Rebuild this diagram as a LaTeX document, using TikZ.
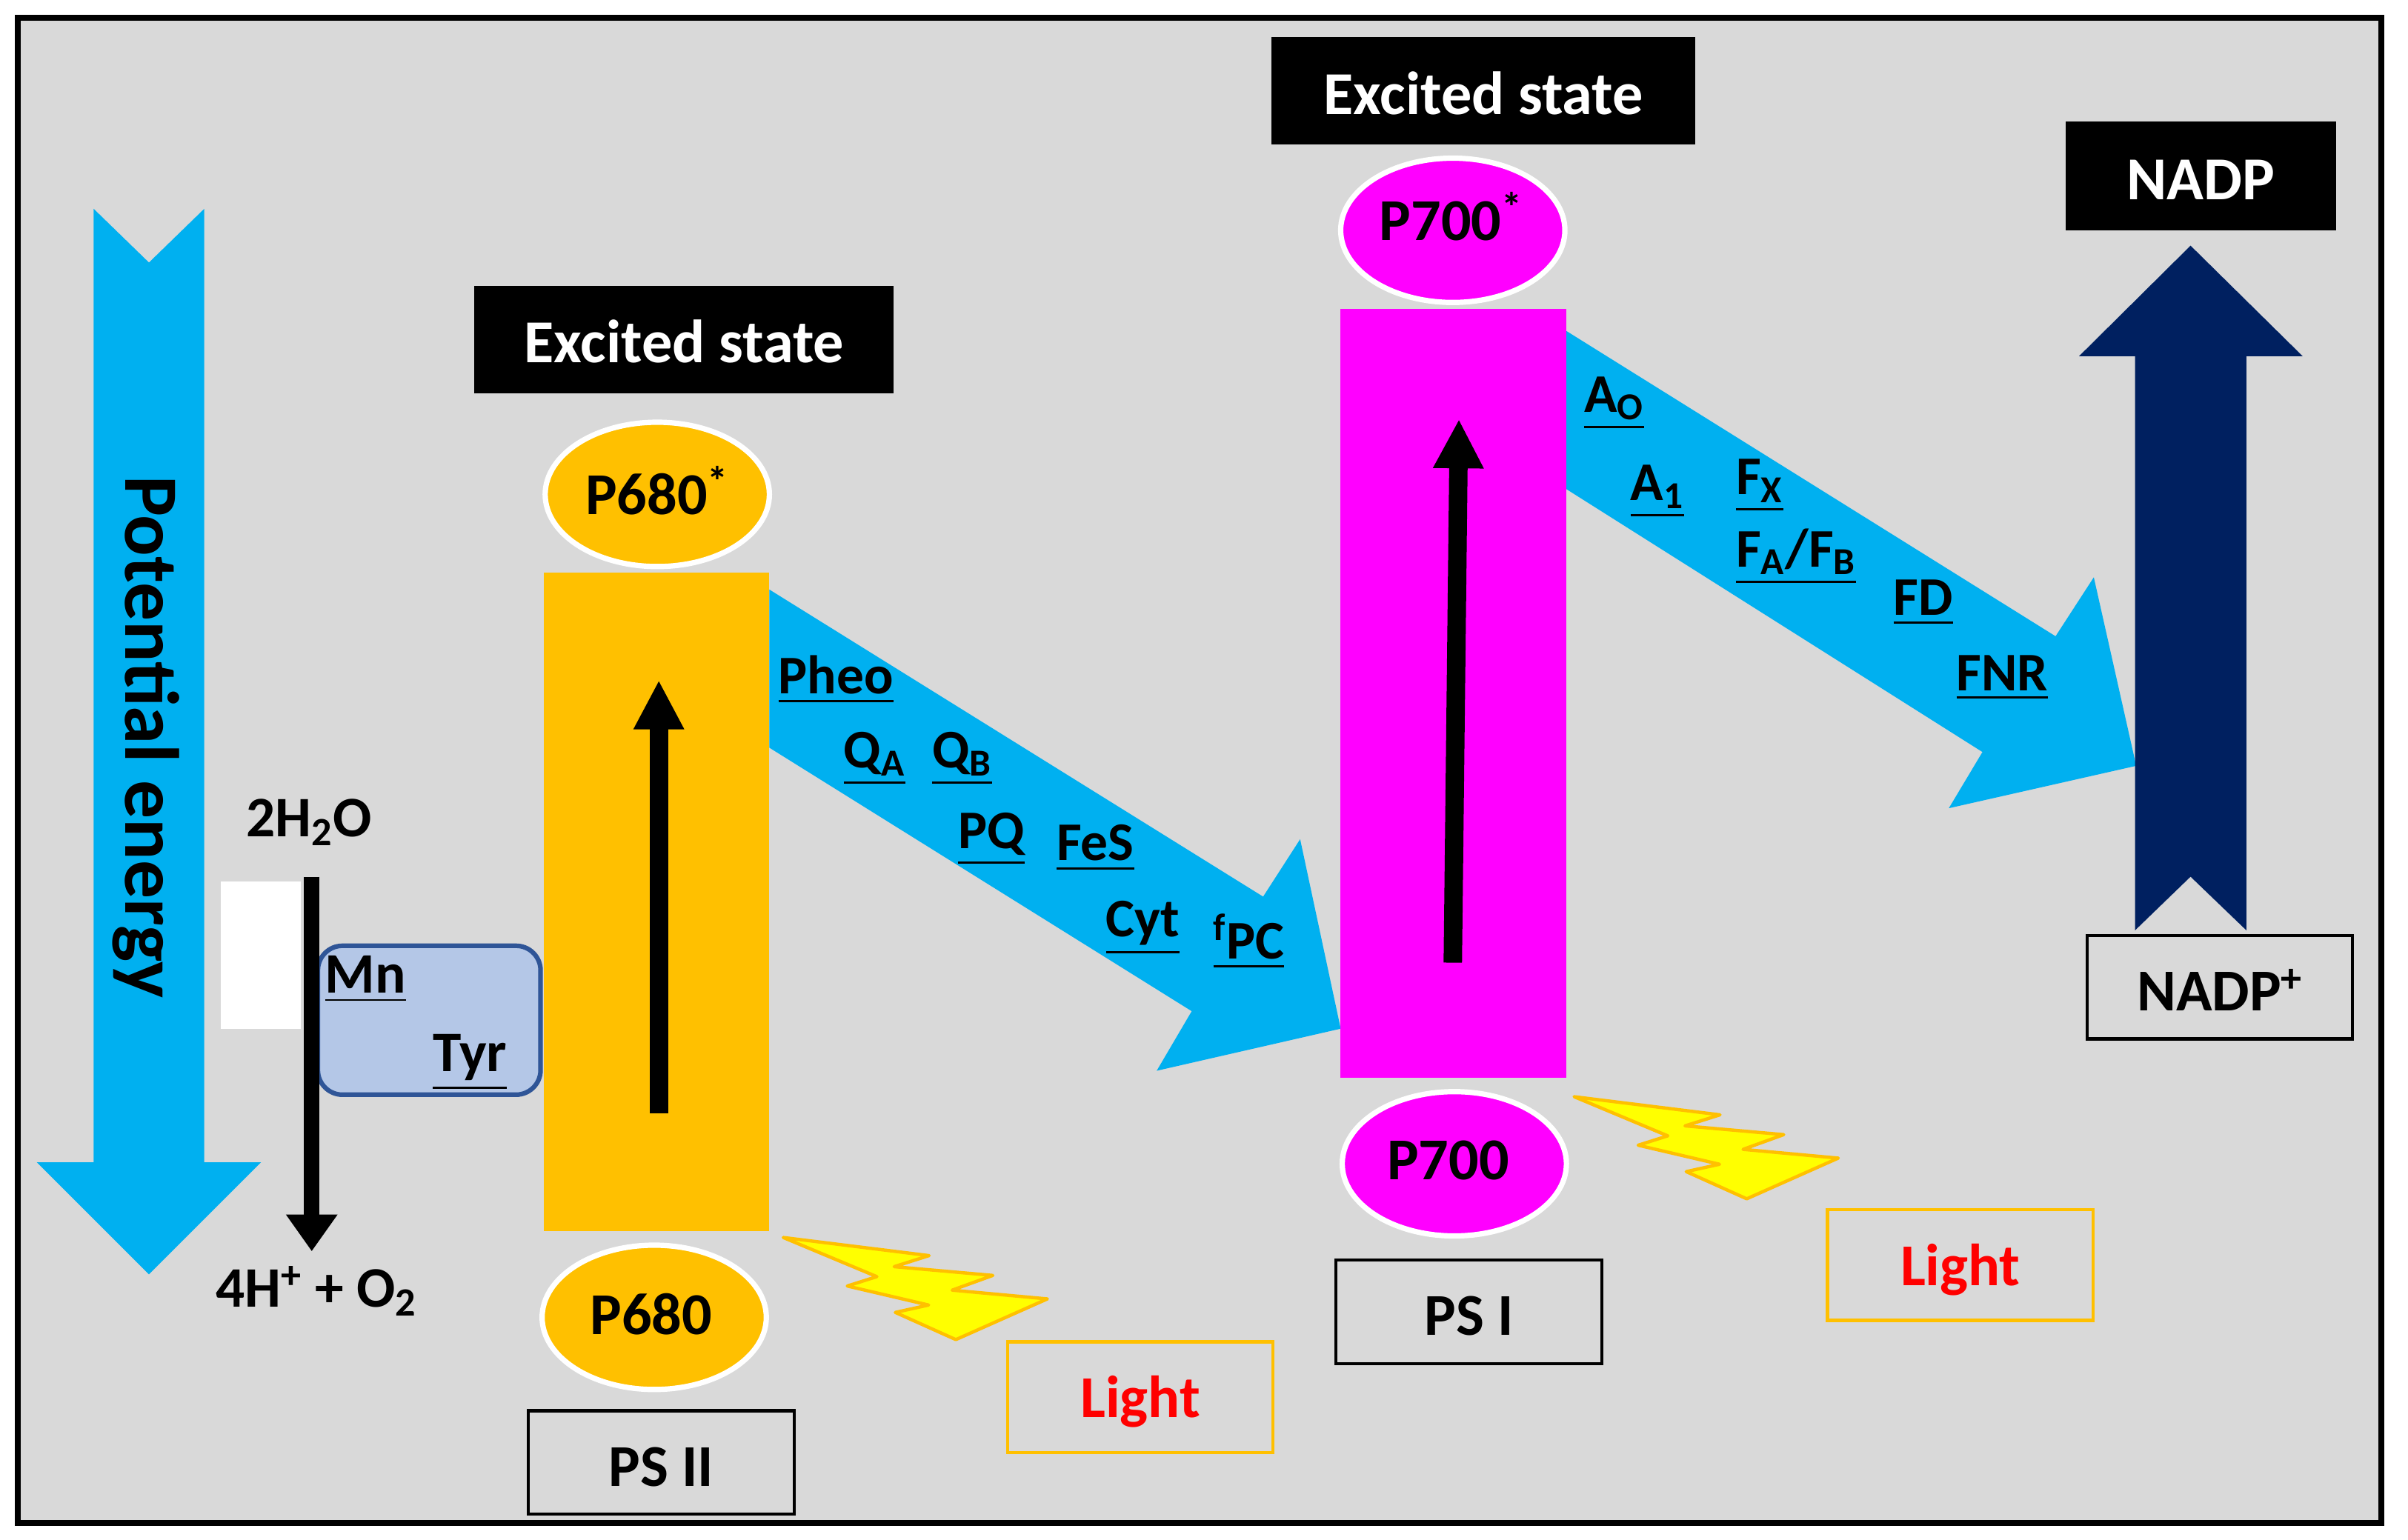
\documentclass[tikz,border=0pt]{standalone}
\usepackage{amsmath}
\usepackage{fontspec}
\usepackage{tikz}
\setmainfont{Carlito}
\usetikzlibrary{arrows.meta}
\usetikzlibrary{shapes}

\tikzset{
  txt/.style={inner sep=0pt,font=\fontsize{29}{34}\selectfont\bfseries},
  chainlabel/.style={inner sep=0pt,font=\fontsize{26.6}{32}\selectfont\bfseries,anchor=base west},
  sidelabel/.style={inner sep=0pt,font=\fontsize{28}{34}\selectfont\bfseries,anchor=base west},
  boxtext/.style={txt,text height=23pt,text depth=0pt},
  headbox/.style={boxtext,font=\fontsize{29.8}{34}\selectfont\bfseries,fill=black,text=white,minimum height=52.5pt},
  labelbox/.style={boxtext,draw=black,line width=1.5pt,minimum width=129.75pt,minimum height=50.5pt},
  lightbox/.style={boxtext,text height=20pt,draw={rgb, 255:red, 255; green, 192; blue, 0 },line width=1.5pt,text={rgb, 255:red, 255; green, 0; blue, 0 },minimum width=129.75pt,minimum height=54pt},
  pigment/.style={ellipse,inner sep=0pt,draw=white,line width=2.6pt,minimum width=109.5pt,minimum height=70.5pt},
  orangefill/.style={fill={rgb, 255:red, 255; green, 192; blue, 0 }},
  magentafill/.style={fill={rgb, 255:red, 255; green, 0; blue, 255 }},
  bluefill/.style={fill={rgb, 255:red, 0; green, 176; blue, 240 }},
  boltshape/.style={line width=1.6pt,line join=round,draw={rgb, 255:red, 255; green, 192; blue, 0 },fill={rgb, 255:red, 255; green, 255; blue, 0 }},
  bigup/.style={line width=9pt,-{Triangle[length=24pt,width=23pt]}},
}

\begin{document}
\begin{tikzpicture}[x=0.75pt,y=0.75pt,yscale=-1,xscale=1]
\useasboundingbox (0,0) rectangle (1568,1003);

%Shape: Frame
\draw [line width=3pt,fill={rgb, 255:red, 217; green, 217; blue, 217 }] (11.5,11.5) rectangle (1550.5,992);

%Shape: Potential energy arrow
\fill [bluefill] (61,136) -- (97,171) -- (133,136) -- (133,757) -- (170,757) -- (97,830) -- (24,757) -- (61,757) -- cycle;
%Shape: Electron path PS II
\fill [bluefill] (501,384) -- (822.5,584) -- (846.6,546.6) -- (873,670) -- (753.2,697.4) -- (776,658.6) -- (501,487) -- cycle;
%Shape: Electron path PS I
\fill [bluefill] (1020,215.6) -- (1338.5,414.4) -- (1363.4,376) -- (1391,498.8) -- (1269,526.4) -- (1290.9,489.8) -- (1020,318.6) -- cycle;
%Shape: NADP arrow
\fill [fill={rgb, 255:red, 0; green, 32; blue, 96 }] (1426.4,160) -- (1499.4,232) -- (1462.8,232) -- (1462.8,606) -- (1426.4,571) -- (1390.2,606) -- (1390.2,232) -- (1353.8,232) -- cycle;

%Shape: Lightning
\draw [boltshape] (510,806) -- (571,831.5) -- (551.7,837.6) -- (604.7,850) -- (583,854.8) -- (622.4,872.5) -- (682,846) -- (620,840.3) -- (646.5,830.7) -- (582.2,825) -- (605,817.8) -- cycle;
%Shape: Lightning
\draw [boltshape] (1025,714.3) -- (1086,739.8) -- (1066.7,745.9) -- (1119.7,758.3) -- (1098,763.1) -- (1137.4,780.8) -- (1197,754.3) -- (1135,748.6) -- (1161.5,739) -- (1097.2,733.3) -- (1120,726.1) -- cycle;

%Shape: Rectangle
\node (water) [fill=white,inner sep=0pt,minimum width=39pt,minimum height=72pt] at (170,622) {};
%Shape: Rounded box
\node (oec) [draw={rgb, 255:red, 47; green, 85; blue, 151 },fill={rgb, 255:red, 180; green, 199; blue, 231 },line width=2.25pt,rounded corners=12pt,inner sep=0pt,minimum width=108.75pt,minimum height=72.75pt] at (279.5,664.5) {};

%Shape: Rectangle
\node (psiibar) [orangefill,inner sep=0pt,minimum width=110.25pt,minimum height=321.75pt] at (427.5,587.5) {};
%Shape: Rectangle
\node (psibar) [magentafill,inner sep=0pt,minimum width=110.25pt,minimum height=375.75pt] at (946.5,451.5) {};

% Text Node
\node (pstarii) [pigment,orangefill] at (428,322) {};
\node (pstariitxt) [txt] at (428,319.5) {P680\textsuperscript{*}};
\node (pii) [pigment,orangefill] at (426,858) {};
\node (piitxt) [txt] at (424,856) {P680};
\node (pstari) [pigment,magentafill] at (946,150) {};
\node (pstaritxt) [txt] at (945,141) {P700\textsuperscript{*}};
\node (pi) [pigment,magentafill] at (947,758) {};
\node (pitxt) [txt] at (943,756) {P700};

% Text Node
\node (excii) [headbox,minimum width=204.75pt] at (445.5,221) {Excited state};
\node (exci) [headbox,minimum width=207pt] at (966,59) {Excited state};
\node (nadp) [headbox,minimum width=132pt,minimum height=53pt] at (1433,114.5) {NADP};
\node (psii) [labelbox] at (430.5,952.5) {PS II};
\node (psi) [labelbox] at (956.5,854.5) {PS I};
\node (nadpp) [labelbox] at (1445.5,643) {NADP\textsuperscript{+}};
\node (lightii) [lightbox] at (742.5,910) {Light};
\node (lighti) [lightbox] at (1276.5,824) {Light};

% Text Node
\node (energy) [txt,font=\fontsize{37.5}{44}\selectfont\bfseries,rotate=-90] at (95,480) {Potential energy};
\node (hwater) [sidelabel] at (160,545) {2H\textsubscript{2}O};
\node (oxygen) [sidelabel] at (140.4,851.5) {4H\textsuperscript{+} + O\textsubscript{2}};
\node (mn) [sidelabel] at (211.5,646.7) {\underline{Mn}};
\node (tyr) [sidelabel] at (281.6,698) {\underline{Tyr}};

% Text Node
\node (pheo) [chainlabel] at (506.6,451.7) {\underline{Pheo}};
\node (qa) [chainlabel] at (549.2,500.2) {\underline{Q\textsubscript{A}}};
\node (qb) [chainlabel] at (606.7,500.2) {\underline{Q\textsubscript{B}}};
\node (pq) [chainlabel] at (623.7,552.6) {\underline{PQ}};
\node (fes) [chainlabel] at (687.8,560.6) {\underline{FeS}};
\node (cyt) [chainlabel] at (720,610.1) {\underline{Cyt}};
\node (pc) [chainlabel] at (789.8,624.6) {\underline{\textsuperscript{f}PC}};

% Text Node
\node (ao) [chainlabel] at (1031.4,268.4) {\underline{A\textsubscript{O}}};
\node (aone) [chainlabel] at (1061.6,326.1) {\underline{A\textsubscript{1}}};
\node (fx) [chainlabel] at (1130.2,322.2) {\underline{F\textsubscript{X}}};
\node (fab) [chainlabel] at (1130.2,369.2) {\underline{F\textsubscript{A}/F\textsubscript{B}}};
\node (fd) [chainlabel] at (1232.7,400.8) {\underline{FD}};
\node (fnr) [chainlabel] at (1273.7,449.7) {\underline{FNR}};

%Straight Lines
\coordinate (wtop) at (203,571);
\coordinate (wend) at (203,815);
\draw [line width=7.5pt,-{Triangle[length=18pt,width=24pt]}] (wtop) -- (wend);
\coordinate (iibase) at (429,725);
\coordinate (iitop) at (429,443);
\draw [bigup] (iibase) -- (iitop);
\coordinate (ibase) at (946,627);
\coordinate (itop) at (950,273);
\draw [bigup] (ibase) -- (itop);

\end{tikzpicture}
\end{document}
